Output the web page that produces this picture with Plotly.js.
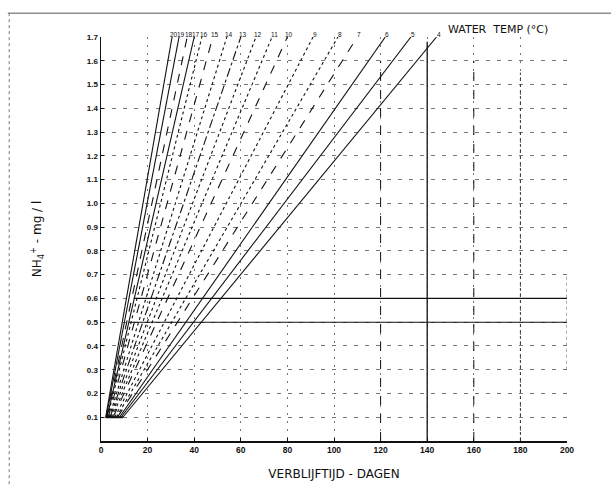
<!DOCTYPE html>
<html>
<head>
<meta charset="utf-8">
<script src="https://cdn.plot.ly/plotly-3.0.1.min.js"></script>
<style>html,body{margin:0;padding:0;background:#fff;}#chart{width:611px;height:486px;}</style>
</head>
<body>
<div id="chart"></div>
<script>
// Water temperature (°C) lines of the nomogram
const temps = [20, 19, 18, 17, 16, 15, 14, 13, 12, 11, 10, 9, 8, 7, 6, 5, 4];
// residence time (days) where each line reaches NH4+ = 0.1 mg/l
const startDays = [2.0, 2.2, 2.4, 2.6, 2.8, 3.1, 3.5, 3.9, 4.3, 4.8, 5.2, 5.9, 6.6, 7.1, 7.9, 8.6, 9.4];
// residence time (days) where each line reaches NH4+ = 1.7 mg/l
const endDays = [30.5, 33.5, 37, 40, 43.3, 48, 54, 60, 66.5, 73.4, 80, 91, 101.7, 110, 122, 133, 144];
const startLevel = 0.1;
const endLevel = 1.7;
const lineDash = ['solid','solid','dash','solid','dot','dash','dot','dashdot','dot','dot','dash','dot','dot','dash','solid','solid','solid'];

const xTicks = [0, 20, 40, 60, 80, 100, 120, 140, 160, 180, 200];
const xTickText = ['0', '20', '40', '60', '80', '100', '120', '140', '160', '180', '200'];
const yTicks = [0.1,0.2,0.3,0.4,0.5,0.6,0.7,0.8,0.9,1.0,1.1,1.2,1.3,1.4,1.5,1.6,1.7];
const yTickText = ['0.1','0.2','0.3','0.4','0.5','0.6','0.7','0.8','0.9','1.0','1.1','1.2','1.3','1.4','1.5','1.6','1.7'];

const traces = temps.map((t, i) => ({
  type: 'scatter', mode: 'lines',
  x: [startDays[i], endDays[i]],
  y: [startLevel, endLevel],
  line: {color: '#111', width: 1.1, dash: lineDash[i]},
  hoverinfo: 'skip', showlegend: false
}));

const annotations = temps.map((t, i) => ({
  x: endDays[i], y: endLevel, xref: 'x', yref: 'y',
  text: String(t), showarrow: false, xanchor: 'center', yanchor: 'bottom',
  xshift: 2, yshift: -3,
  font: {family: 'Liberation Sans Narrow, Liberation Sans', size: 6.5, color: '#111'}
}));
annotations.push({
  x: 148, y: endLevel, xref: 'x', yref: 'y', text: 'WATER  TEMP (°C)', showarrow: false,
  xanchor: 'left', yanchor: 'bottom', yshift: -1,
  font: {family: 'DejaVu Sans', size: 11, color: '#111'}
});

const shapes = [
  // emphasised reference levels
  {type:'line', xref:'x', yref:'y', x0:14, x1:200, y0:0.6, y1:0.6, line:{color:'#111', width:1.3}},
  {type:'line', xref:'x', yref:'y', x0:12, x1:200, y0:0.5, y1:0.5, line:{color:'#111', width:1.1}},
  {type:'line', xref:'x', yref:'y', x0:140, x1:140, y0:0, y1:1.68, line:{color:'#111', width:1.3}},
  {type:'line', xref:'x', yref:'y', x0:120, x1:120, y0:0, y1:1.6, line:{color:'#111', width:1, dash:'dash'}},
  {type:'line', xref:'x', yref:'y', x0:160, x1:160, y0:0, y1:1.6, line:{color:'#111', width:1, dash:'dash'}},
  {type:'line', xref:'x', yref:'y', x0:180, x1:180, y0:0, y1:1.55, line:{color:'#333', width:1, dash:'dot'}},
  {type:'line', xref:'x', yref:'y', x0:200, x1:200, y0:0.3, y1:0.7, line:{color:'#555', width:1, dash:'dot'}},
  {type:'line', xref:'x', yref:'y', x0:2, x1:9.4, y0:0.1, y1:0.1, line:{color:'#111', width:2}},
  // scan border
  {type:'line', xref:'paper', yref:'paper', x0:-0.2, x1:1.1, y0:1.059, y1:1.059, line:{color:'#555', width:1}},
  {type:'line', xref:'paper', yref:'paper', x0:-0.197, x1:-0.197, y0:1.059, y1:-0.11, line:{color:'#777', width:1, dash:'dot'}}
];

const layout = {
  width: 611, height: 486,
  margin: {l: 101, r: 44, t: 37, b: 45},
  paper_bgcolor: '#fff', plot_bgcolor: '#fff',
  showlegend: false,
  xaxis: {
    range: [0, 200], tickvals: xTicks, ticktext: xTickText,
    showline: true, linecolor: '#111', linewidth: 1.5,
    showgrid: true, gridcolor: '#777', gridwidth: 1, griddash: '2px,6px',
    zeroline: false, ticks: 'inside', ticklen: 3, tickcolor: '#111',
    tickfont: {family: 'Liberation Sans', size: 8.5, color: '#111', weight: 'bold'},
    title: {text: 'VERBLIJFTIJD - DAGEN', font: {family: 'DejaVu Sans', size: 12, color: '#111'}, standoff: 16}
  },
  yaxis: {
    range: [0, 1.7], tickvals: yTicks, ticktext: yTickText,
    showline: true, linecolor: '#111', linewidth: 1.5,
    showgrid: true, gridcolor: '#777', gridwidth: 1, griddash: '4px,7px',
    zeroline: false, ticks: 'inside', ticklen: 3, tickcolor: '#111',
    tickfont: {family: 'Liberation Sans', size: 8, color: '#111', weight: 'bold'},
    title: {text: 'NH<sub>4</sub><sup>+</sup> - mg / l', font: {family: 'DejaVu Sans', size: 12, color: '#111'}, standoff: 42}
  },
  shapes: shapes,
  annotations: annotations
};

Plotly.newPlot('chart', traces, layout, {displayModeBar: false, staticPlot: true});
</script>
</body>
</html>
